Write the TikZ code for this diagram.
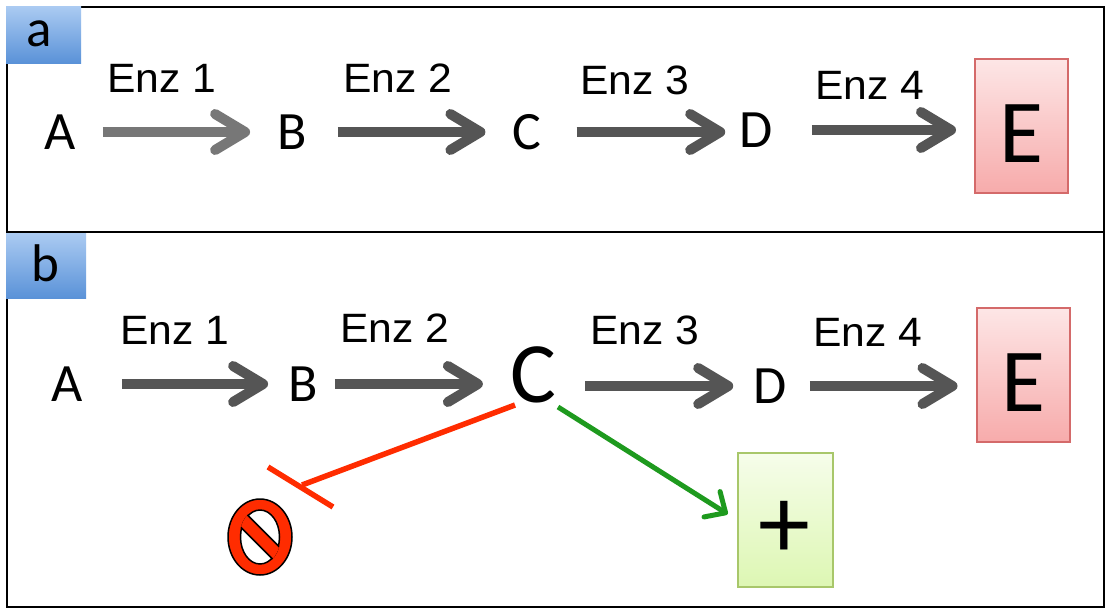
\documentclass[tikz,border=0pt]{standalone}
\usepackage{fontspec}
\newfontfamily\calfont{Carlito}
\newfontfamily\arifont[FakeStretch=1.04]{Liberation Sans}
\usetikzlibrary{arrows.meta,calc}
\definecolor{arrgray}{HTML}{555555}
\definecolor{arrlight}{HTML}{777777}
\definecolor{bluetop}{HTML}{ABCBF2}
\definecolor{bluebot}{HTML}{5A92D8}
\definecolor{redtop}{HTML}{FDE6E6}
\definecolor{redbot}{HTML}{F7ABAB}
\definecolor{redborder}{HTML}{D46A6A}
\definecolor{greentop}{HTML}{F6FDEA}
\definecolor{greenbot}{HTML}{DDF7B3}
\definecolor{greenborder}{HTML}{A8C76A}
\definecolor{inhred}{HTML}{FF2C00}
\definecolor{actgreen}{HTML}{1E9A1E}
\begin{document}
\begin{tikzpicture}[x=1pt,y=-1pt,
  letter/.style={font=\calfont\fontsize{54}{54}\selectfont, inner sep=0pt},
  bigletter/.style={font=\calfont\fontsize{86}{86}\selectfont, inner sep=0pt},
  boxletter/.style={font=\calfont\fontsize{90}{90}\selectfont, inner sep=0pt},
  panellabel/.style={font=\calfont\fontsize{53}{53}\selectfont, inner sep=0pt},
  enz/.style={font=\arifont\fontsize{41}{41}\selectfont, inner sep=0pt},
  flow/.style={line width=10pt, draw=arrgray, -{Straight Barb[length=30pt,width=36pt,round]}},
  productE/.style={draw=redborder, line width=2pt, top color=redtop, bottom color=redbot, minimum width=93pt, minimum height=134pt, inner sep=0pt},
  productP/.style={draw=greenborder, line width=2pt, top color=greentop, bottom color=greenbot, minimum width=95pt, minimum height=134pt, inner sep=0pt},
  tagbox/.style={top color=bluetop, bottom color=bluebot, draw=none},
  inhib/.style={draw=inhred, line width=5.5pt},
  act/.style={draw=actgreen, line width=5pt, -{Straight Barb[length=16pt,width=30pt,round]}}
]
\useasboundingbox (0,0) rectangle (1110,613);
\fill[white] (0,0) rectangle (1110,613);

% frame
\draw[line width=2pt] (7,7) rectangle (1104,607);
\draw[line width=2pt] (7,232) -- (1104,232);

% panel labels
\path[tagbox] (6,6) rectangle (81,63);
\node[panellabel] (la) at (39,34) {a};
\path[tagbox] (6,233) rectangle (86,298);
\node[panellabel] (lb) at (45,263) {b};

% ---------- panel a ----------
\node[letter] (A1) at (60,132) {A};
\node[letter] (B1) at (292,132) {B};
\node[letter] (C1) at (527,132) {C};
\node[letter] (D1) at (756,130) {D};
\node[productE] (E1) at (1021.5,126) {};
\node[boxletter] (E1t) at (1021.5,134) {E};

\node[enz] (ea1) at (162,78) {Enz 1};
\node[enz] (ea2) at (398,78) {Enz 2};
\node[enz] (ea3) at (635,80) {Enz 3};
\node[enz] (ea4) at (870,85) {Enz 4};

\draw[flow, draw=arrlight, shorten <=27pt, shorten >=27pt] (A1.east) -- (B1.west);
\draw[flow, shorten <=31pt, shorten >=27pt] (B1.east) -- (C1.west);
\draw[flow, shorten <=35pt, shorten >=14pt] (C1.east) -- (C1.east -| D1.west);
\draw[flow, shorten <=39pt, shorten >=18pt] (D1.east) -- (D1.east -| E1.west);

% ---------- panel b ----------
\node[letter] (A2) at (67,384) {A};
\node[letter] (B2) at (303,384) {B};
\node[bigletter] (C2) at (533,375) {C};
\node[letter] (D2) at (770,386) {D};
\node[productE] (E2) at (1023,375) {};
\node[boxletter] (E2t) at (1023,383) {E};

\node[enz] (eb1) at (175,330) {Enz 1};
\node[enz] (eb2) at (395,328) {Enz 2};
\node[enz] (eb3) at (645,330) {Enz 3};
\node[enz] (eb4) at (868,332) {Enz 4};

\draw[flow, shorten <=39pt, shorten >=20pt] (A2.east) -- (B2.west);
\draw[flow, shorten <=17pt, shorten >=27pt] (B2.east) -- (B2.east -| C2.west);
\draw[flow, shorten <=29pt, shorten >=20pt] (C2.east |- D2.west) -- (D2.west);
\draw[flow, shorten <=23pt, shorten >=18pt] (D2.east) -- (D2.east -| E2.west);

% inhibition
\coordinate (tee) at (302,485);
\draw[inhib] ($(C2.center)+(-18,30)$) -- (tee);
\draw[inhib] ($(tee)+(-34,-18)$) -- ($(tee)+(31,22)$);

% no symbol
\coordinate (no) at (260,537);
\begin{scope}[shift={(no)}]
  \fill[inhred, draw=black, line width=1.5pt, even odd rule]
    (0,0) ellipse [x radius=32, y radius=38] (0,0) ellipse [x radius=19.5, y radius=27];
  \begin{scope}
    \clip (0,0) ellipse [x radius=20.5, y radius=28];
    \draw[black, line width=15pt] (-30,-30) -- (30,30);
    \draw[inhred, line width=11.5pt] (-30,-30) -- (30,30);
  \end{scope}
\end{scope}

% activation
\node[productP] (P) at (785.5,520) {};
\node[font=\calfont\fontsize{104}{104}\selectfont, inner sep=0pt] (Pt) at (784,530) {+};
\draw[act, shorten >=11pt] ($(C2.center)+(25,32)$) -- (P.west);
\end{tikzpicture}
\end{document}
